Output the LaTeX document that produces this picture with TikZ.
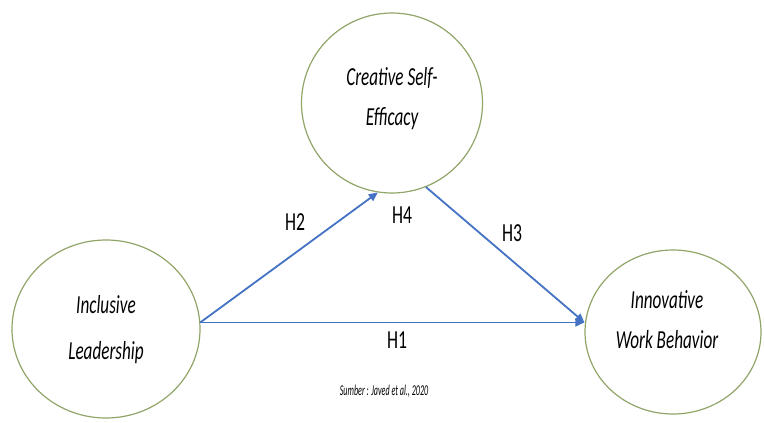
\documentclass[tikz,border=0pt]{standalone}
\usepackage{fontspec}
\usepackage{graphicx}
\setmainfont{Carlito}
\usetikzlibrary{shapes.geometric,arrows.meta}
\definecolor{ellcol}{RGB}{145,165,105}
\definecolor{arrcol}{RGB}{68,114,196}
\newcommand\sqz[2]{\scalebox{#1}[1]{#2}}
\tikzset{
  var/.style={draw=ellcol, line width=1.2pt, ellipse, inner sep=0pt, fill=white},
  vtext/.style={font=\fontsize{26}{26}\selectfont\itshape, align=center},
  hyp/.style={font=\fontsize{26}{26}\selectfont},
  link/.style={draw=arrcol, line width=1.8pt, -{Triangle[length=9pt,width=8pt]}}
}
\begin{document}
\begin{tikzpicture}[x=1pt,y=-1pt]
\useasboundingbox (0,0) rectangle (764,423);
\fill[white] (0,0) rectangle (764,423);
\node[var, minimum width=188pt, minimum height=178pt] (L) at (106,329) {};
\node[var, minimum width=181pt, minimum height=180pt] (C) at (392,103) {};
\node[var, minimum width=176pt, minimum height=164pt] (R) at (673,332) {};
\node[vtext] (Lt1) at (106,305) {\sqz{0.66}{Inclusive}};
\node[vtext] (Lt2) at (106,353) {\sqz{0.66}{Leadership}};
\node[vtext] (Ct1) at (392,78) {\sqz{0.66}{Creative Self-}};
\node[vtext] (Ct2) at (392,119) {\sqz{0.66}{Efficacy}};
\node[vtext] (Rt1) at (667,300) {\sqz{0.66}{Innovative}};
\node[vtext] (Rt2) at (667,340) {\sqz{0.66}{Work Behavior}};
\coordinate (tip) at (L.4 -| R.west);
\draw[link] (L.4) -- (tip);
\draw[link] (L.4) -- (C.261);
\draw[link] (C.292) -- (tip);
\node[hyp] (H2) at (295,222) {\sqz{0.68}{H2}};
\node[hyp] (H4) at (402,215) {\sqz{0.68}{H4}};
\node[hyp] (H3) at (512,233) {\sqz{0.68}{H3}};
\node[hyp] (H1) at (397,340) {\sqz{0.68}{H1}};
\node[font=\fontsize{15}{15}\selectfont\itshape] (src) at (384,391) {\sqz{0.54}{Sumber : Javed et al., 2020}};
\end{tikzpicture}
\end{document}
